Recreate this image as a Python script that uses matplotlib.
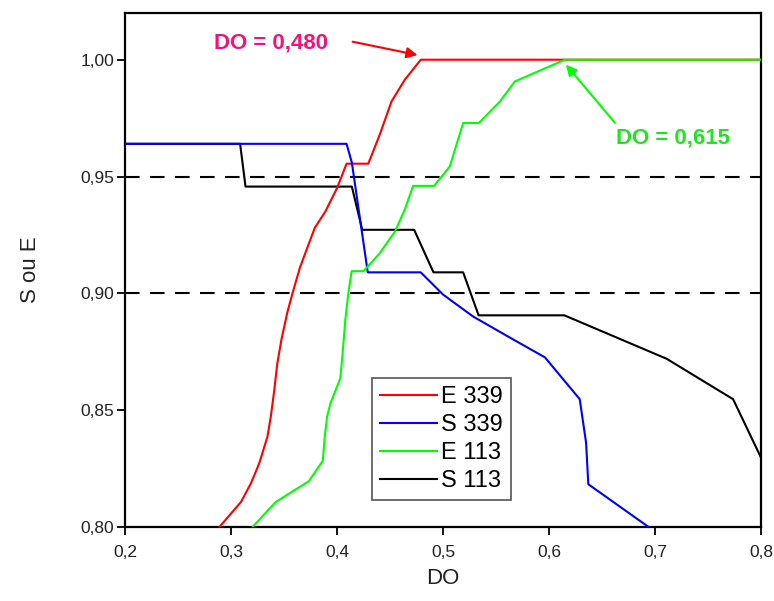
import matplotlib
matplotlib.use("Agg")
import matplotlib.pyplot as plt
from matplotlib.ticker import FuncFormatter, MultipleLocator

plt.rcParams['font.family'] = ['Liberation Sans', 'DejaVu Sans']

# Sensitivity / specificity curves versus DO threshold
e339_x = [0.289, 0.3094, 0.3187, 0.3265, 0.3343, 0.3375, 0.3406, 0.3437, 0.3475,
          0.353, 0.358, 0.365, 0.379, 0.389, 0.400, 0.409, 0.4295, 0.4403, 0.4514,
          0.4639, 0.479, 0.615, 0.80]
e339_y = [0.800, 0.8107, 0.8186, 0.8271, 0.8385, 0.8471, 0.8578, 0.870, 0.880,
          0.8916, 0.900, 0.911, 0.928, 0.935, 0.945, 0.9555, 0.9555, 0.9679, 0.9821,
          0.9914, 1.000, 1.000, 1.000]

s339_x = [0.20, 0.409, 0.414, 0.429, 0.479, 0.500, 0.5284, 0.563, 0.5962, 0.629,
          0.635, 0.6371, 0.694]
s339_y = [0.964, 0.964, 0.956, 0.909, 0.909, 0.8995, 0.8901, 0.8811, 0.8726, 0.8547,
          0.836, 0.8183, 0.800]

e113_x = [0.3203, 0.3422, 0.3734, 0.3866, 0.3884, 0.3906, 0.3937, 0.4031, 0.4053,
          0.4078, 0.4107, 0.4138, 0.425, 0.440, 0.4546, 0.4639, 0.4718, 0.4916,
          0.5064, 0.519, 0.5338, 0.5537, 0.5678, 0.615, 0.80]
e113_y = [0.800, 0.8107, 0.8196, 0.8283, 0.8385, 0.8471, 0.8528, 0.8636, 0.8743,
          0.8885, 0.900, 0.9095, 0.9095, 0.917, 0.9264, 0.9358, 0.946, 0.946,
          0.9543, 0.9729, 0.9729, 0.9821, 0.9907, 1.000, 1.000]

s113_x = [0.20, 0.3086, 0.3137, 0.414, 0.4238, 0.4728, 0.491, 0.519, 0.5336,
          0.6145, 0.711, 0.7737, 0.80]
s113_y = [0.964, 0.964, 0.9457, 0.9457, 0.9272, 0.9272, 0.909, 0.909, 0.8906,
          0.8906, 0.872, 0.8547, 0.8297]

ref_levels = [0.95, 0.90]
cutoff_e339 = 0.480
cutoff_e113 = 0.615

fig = plt.figure(figsize=(7.74, 6.01), dpi=100)
ax = fig.add_axes([0.1615, 0.1231, 0.8217, 0.8553])

for lvl in ref_levels:
    ax.axhline(lvl, color='black', lw=1.5, dashes=(7, 5), zorder=1)

ax.plot(e339_x, e339_y, color='#FF0000', lw=1.5, label='E 339', zorder=3)
ax.plot(s339_x, s339_y, color='#0000FF', lw=1.5, label='S 339', zorder=3)
ax.plot(e113_x, e113_y, color='#00FF00', lw=1.5, label='E 113', zorder=4)
ax.plot(s113_x, s113_y, color='#000000', lw=1.5, label='S 113', zorder=2)

ax.set_xlim(0.2, 0.8)
ax.set_ylim(0.80, 1.02)
ax.xaxis.set_major_locator(MultipleLocator(0.1))
ax.yaxis.set_major_locator(MultipleLocator(0.05))
ax.xaxis.set_major_formatter(FuncFormatter(lambda v, p: f"{v:.1f}".replace('.', ',')))
ax.yaxis.set_major_formatter(FuncFormatter(lambda v, p: f"{v:.2f}".replace('.', ',')))
ax.tick_params(direction='out', length=6, width=1.3, labelsize=12.5,
               labelcolor='#222222', pad=2)
ax.tick_params(axis='x', pad=7)
for sp in ax.spines.values():
    sp.set_linewidth(1.6)

ax.set_xlabel('DO', fontsize=16, color='#222222', labelpad=6)
ax.set_ylabel('S ou E', fontsize=16, color='#222222', labelpad=28)

# Cut-off annotations
ax.annotate('', xy=(cutoff_e339 - 0.004, 1.002), xytext=(0.4148, 1.0077),
            arrowprops=dict(arrowstyle='-|>', color='#FF0000', lw=1.5,
                            mutation_scale=16, shrinkA=0, shrinkB=0))
ax.text(0.3374, 1.0073, 'DO = ' + f"{cutoff_e339:.3f}".replace('.', ','),
        color='#F0147A', fontsize=16, fontweight='bold', ha='center', va='center')

ax.annotate('', xy=(cutoff_e113 + 0.001, 0.9979), xytext=(0.6622, 0.973),
            arrowprops=dict(arrowstyle='-|>', color='#00FF00', lw=1.5,
                            mutation_scale=16, shrinkA=0, shrinkB=0))
ax.text(0.717, 0.9666, 'DO = ' + f"{cutoff_e113:.3f}".replace('.', ','),
        color='#1EE61E', fontsize=16, fontweight='bold', ha='center', va='center')

leg = ax.legend(loc='upper left', bbox_to_anchor=(0.388, 0.29), fontsize=17,
                frameon=True, fancybox=False, edgecolor='#555555', framealpha=1,
                handlelength=2.4, handletextpad=0.2, labelspacing=0.25,
                borderpad=0.35, borderaxespad=0)
leg.get_frame().set_linewidth(1.2)

fig.savefig('out.png', dpi=100)
